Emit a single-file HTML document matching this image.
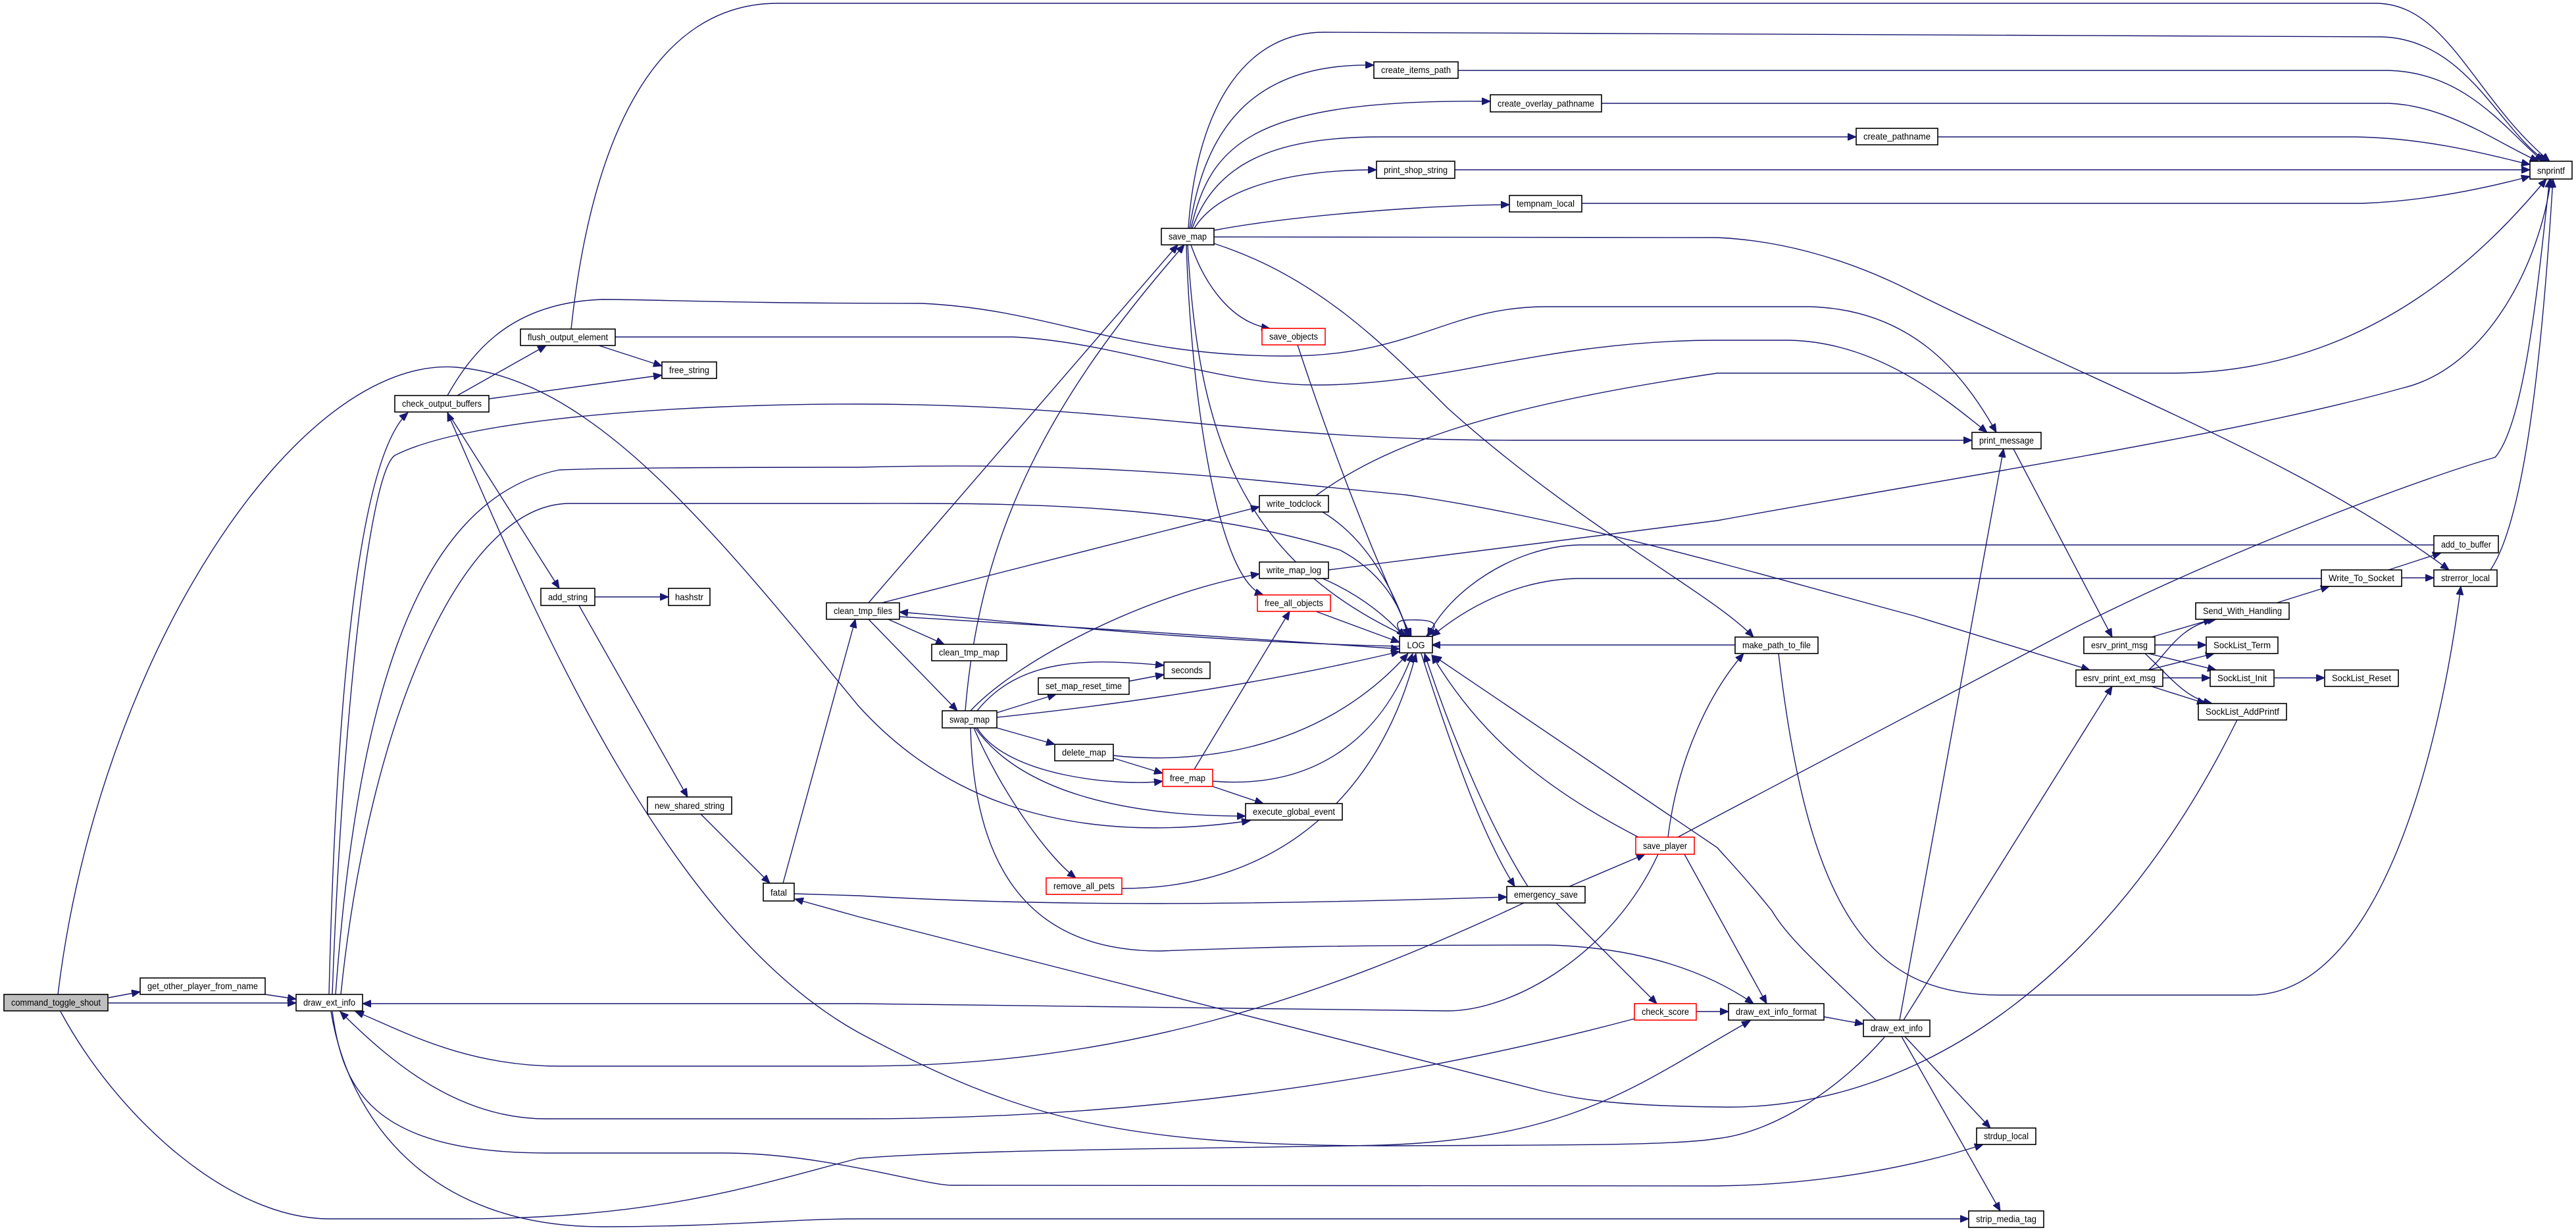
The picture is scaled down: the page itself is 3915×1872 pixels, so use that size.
<!DOCTYPE html>
<html><head><meta charset="utf-8"><style>
html,body{margin:0;padding:0;background:#fff;}
svg{display:block;}
.e{fill:none;stroke:#191970;stroke-width:1.4;marker-end:url(#a);}
.n{fill:#fff;stroke:#000;stroke-width:1.6;}
.r{fill:#fff;stroke:#ff0000;stroke-width:1.6;}
text{font-family:"Liberation Sans",sans-serif;font-size:14px;fill:#000;text-anchor:middle;}
</style></head><body>
<svg width="3915" height="1872" viewBox="0 0 3915 1872" xmlns="http://www.w3.org/2000/svg">
<defs><marker id="a" markerUnits="userSpaceOnUse" markerWidth="14" markerHeight="11" refX="13" refY="5.5" orient="auto"><path d="M0,0 L13,5.5 L0,11 z" fill="#191970" stroke="#191970"/></marker></defs>
<g>
<path class="e" d="M165,1516 L213,1507"/>
<path class="e" d="M165,1524 L450,1524"/>
<path class="e" d="M403,1511 L450,1518"/>
<path class="e" d="M88,1511 C150,1000 450,540 693,558 C900,575 1080,800 1305,1073 C1420,1200 1600,1290 1900,1247"/>
<path class="e" d="M92,1537 C180,1700 350,1852 500,1852 L700,1852 C1000,1852 1150,1800 1305,1760 C1500,1745 1900,1745 2100,1740 C2400,1730 2500,1640 2660,1551"/>
<path class="e" d="M500,1511 C510,1100 540,700 620,627"/>
<path class="e" d="M505,1511 C520,1100 560,720 600,692 C700,640 1000,614 1305,614 C1700,614 1900,669 2300,669 L2997,669"/>
<path class="e" d="M510,1511 C540,1100 620,760 850,714 C950,710 1200,710 1305,710 C1700,700 1900,730 2137,752 C2400,790 2700,880 2910,936 L3176,1018"/>
<path class="e" d="M518,1511 C560,1100 700,765 866,765 L1305,765 C1500,765 1800,760 2037,836 C2100,870 2130,920 2140,968"/>
<path class="e" d="M2316,1372 C2000,1520 1700,1620 1305,1620 L850,1620 C700,1620 600,1560 540,1537"/>
<path class="e" d="M2484,1548 C2100,1650 1700,1700 1305,1700 L830,1700 C700,1700 600,1620 517,1537"/>
<path class="e" d="M505,1537 C520,1650 560,1752 832,1752 L1100,1752 C1250,1752 1400,1800 1446,1801 L2610,1802 C2800,1800 2950,1760 3014,1739"/>
<path class="e" d="M503,1537 C530,1700 650,1864 915,1864 C1100,1864 1200,1852 1305,1852 L2992,1852"/>
<path class="e" d="M2864,1576 C2800,1650 2700,1720 2610,1730 C2550,1740 2400,1740 2100,1741 C1700,1740 1550,1700 1305,1569 C1000,1400 800,900 680,627"/>
<path class="e" d="M3400,1094 C3200,1500 2900,1690 2610,1682 C2450,1680 2400,1670 2345,1658 L1305,1393 L1208,1366"/>
<path class="e" d="M1207,1358 L1305,1361 C1600,1378 1900,1375 2290,1363"/>
<path class="e" d="M1190,1342 L1300,941"/>
<path class="e" d="M1065,1237 L1170,1342"/>
<path class="e" d="M880,920 L1045,1211"/>
<path class="e" d="M904,907 L1016,907"/>
<path class="e" d="M680,626 L850,894"/>
<path class="e" d="M695,601 L830,525"/>
<path class="e" d="M743,606 L1006,570"/>
<path class="e" d="M910,525 L1006,556"/>
<path class="e" d="M680,601 C720,530 780,460 915,455 C1000,455 1100,461 1400,461 C1600,470 1700,541 1954,541 C2150,541 2200,466 2350,466 L2750,466 C2900,470 2980,560 3034,657"/>
<path class="e" d="M935,512 L1540,512 C1700,520 1850,585 2000,585 C2200,585 2350,517 2610,517 L2720,517 C2850,520 2950,600 3020,657"/>
<path class="e" d="M868,500 C900,200 1000,5 1182,5 L3610,5 C3720,5 3760,150 3875,245"/>
<path class="e" d="M1808,347 C1830,200 1900,95 2088,99"/>
<path class="e" d="M1810,347 C1840,220 1900,150 2265,154"/>
<path class="e" d="M1812,347 C1850,240 1950,208 2100,208 L2821,208"/>
<path class="e" d="M1815,347 C1850,290 1950,258 2092,258"/>
<path class="e" d="M1845,350 C1950,330 2150,312 2294,311"/>
<path class="e" d="M1806,347 C1820,150 1900,49 2012,49 L3620,56 C3750,60 3800,200 3870,245"/>
<path class="e" d="M2216,107 L3630,107 C3750,110 3810,200 3865,245"/>
<path class="e" d="M2434,157 L3630,157 C3720,160 3800,220 3858,245"/>
<path class="e" d="M2945,208 L3580,208 C3700,210 3800,240 3845,250"/>
<path class="e" d="M2211,258 L3845,258"/>
<path class="e" d="M2404,309 L3590,309 C3700,305 3800,280 3845,268"/>
<path class="e" d="M1845,360 L2610,361 C2700,365 2800,390 2900,440 C3200,590 3500,700 3722,866"/>
<path class="e" d="M1845,370 C2000,420 2100,520 2200,620 C2400,800 2600,900 2665,968"/>
<path class="e" d="M1810,372 C1830,430 1870,490 1930,499"/>
<path class="e" d="M1805,372 C1820,650 1880,850 2140,968"/>
<path class="e" d="M1803,372 C1810,600 1850,880 1920,904"/>
<path class="e" d="M1972,524 C2030,700 2090,850 2145,968"/>
<path class="e" d="M1320,916 L1790,372"/>
<path class="e" d="M1467,1080 C1490,800 1600,600 1800,372"/>
<path class="e" d="M1340,916 L1914,770"/>
<path class="e" d="M1475,1080 C1550,1000 1750,900 1914,872"/>
<path class="e" d="M2127,982 C1800,975 1500,940 1367,930"/>
<path class="e" d="M1367,937 C1600,950 1900,970 2127,986"/>
<path class="e" d="M1350,941 L1435,979"/>
<path class="e" d="M1320,941 L1455,1080"/>
<path class="e" d="M1485,1080 C1550,1000 1650,1000 1769,1011"/>
<path class="e" d="M1515,1083 L1605,1055"/>
<path class="e" d="M1716,1035 L1769,1025"/>
<path class="e" d="M1515,1090 C1800,1060 2000,1020 2127,990"/>
<path class="e" d="M1515,1106 L1603,1131"/>
<path class="e" d="M1485,1106 C1530,1180 1700,1195 1767,1187"/>
<path class="e" d="M1482,1106 C1550,1200 1700,1240 1893,1240"/>
<path class="e" d="M1480,1106 C1520,1200 1590,1300 1635,1334"/>
<path class="e" d="M1475,1106 C1480,1300 1550,1445 1763,1445 C1900,1440 2000,1436 2354,1436 C2500,1440 2600,1480 2665,1525"/>
<path class="e" d="M1692,1152 L1767,1175"/>
<path class="e" d="M1692,1148 C1800,1160 2000,1150 2140,993"/>
<path class="e" d="M1815,1169 L1960,929"/>
<path class="e" d="M1843,1187 C2000,1200 2100,1120 2147,993"/>
<path class="e" d="M1843,1195 L1920,1221"/>
<path class="e" d="M1705,1350 C1950,1350 2100,1200 2152,993"/>
<path class="e" d="M2010,778 C2080,820 2120,900 2142,968"/>
<path class="e" d="M2010,879 C2070,905 2110,940 2135,968"/>
<path class="e" d="M2000,929 L2127,976"/>
<path class="e" d="M2000,753 C2100,680 2250,620 2610,567 L3300,567 C3600,567 3780,380 3870,272"/>
<path class="e" d="M2019,866 L2610,791 C3000,720 3400,660 3650,590 C3780,560 3860,400 3877,272"/>
<path class="e" d="M2133,965 C2110,940 2135,942 2152,942 C2170,942 2195,945 2168,966"/>
<path class="e" d="M2160,993 C2220,1180 2260,1280 2302,1347"/>
<path class="e" d="M2322,1347 C2260,1250 2200,1100 2165,993"/>
<path class="e" d="M2490,1272 C2350,1200 2250,1120 2176,995"/>
<path class="e" d="M2851,1550 C2780,1480 2720,1430 2693,1384 C2650,1330 2620,1300 2610,1288 L2178,996"/>
<path class="e" d="M2385,1347 L2500,1298"/>
<path class="e" d="M2365,1372 L2518,1525"/>
<path class="e" d="M2520,1298 C2450,1450 2300,1536 2200,1536 L1305,1525 L551,1525"/>
<path class="e" d="M2535,1272 C2550,1150 2600,1050 2650,993"/>
<path class="e" d="M2550,1272 L2610,1240 L3159,951 C3400,830 3700,720 3792,695 C3840,640 3860,400 3875,272"/>
<path class="e" d="M2560,1298 L2685,1525"/>
<path class="e" d="M2578,1537 L2627,1537"/>
<path class="e" d="M2772,1545 L2832,1556"/>
<path class="e" d="M2887,1550 L3045,682"/>
<path class="e" d="M2893,1550 L3210,1043"/>
<path class="e" d="M2895,1575 L3025,1714"/>
<path class="e" d="M2890,1575 L3040,1840"/>
<path class="e" d="M3060,682 L3210,968"/>
<path class="e" d="M2637,980 L2176,980"/>
<path class="e" d="M2703,993 C2750,1400 2850,1512 3040,1512 L3420,1512 C3600,1512 3700,1200 3740,891"/>
<path class="e" d="M3785,866 C3830,800 3860,600 3880,272"/>
<path class="e" d="M3630,866 L3710,840"/>
<path class="e" d="M3650,878 L3699,878"/>
<path class="e" d="M3460,916 L3540,891"/>
<path class="e" d="M3699,828 L2400,828 C2300,830 2200,900 2170,967"/>
<path class="e" d="M3528,879 L2400,879 C2300,880 2220,930 2176,967"/>
<path class="e" d="M3270,968 L3362,941"/>
<path class="e" d="M3275,980 L3353,980"/>
<path class="e" d="M3265,993 L3368,1018"/>
<path class="e" d="M3260,993 C3300,1030 3320,1060 3362,1069"/>
<path class="e" d="M3265,1018 C3290,1000 3310,950 3368,941"/>
<path class="e" d="M3265,1018 L3365,993"/>
<path class="e" d="M3287,1030 L3359,1030"/>
<path class="e" d="M3270,1043 L3352,1069"/>
<path class="e" d="M3456,1030 L3533,1030"/>
</g>
<g>
<rect x="6" y="1511" width="158" height="25" fill="#bfbfbf" stroke="#000" stroke-width="1.6"/><text x="85" y="1528" textLength="136" lengthAdjust="spacingAndGlyphs">command_toggle_shout</text>
<rect class="n" x="213" y="1486" width="190" height="25"/><text x="308" y="1503" textLength="168" lengthAdjust="spacingAndGlyphs">get_other_player_from_name</text>
<rect class="n" x="450" y="1511" width="101" height="25"/><text x="500.5" y="1528" textLength="79" lengthAdjust="spacingAndGlyphs">draw_ext_info</text>
<rect class="n" x="600" y="601" width="143" height="25"/><text x="671.5" y="618" textLength="121" lengthAdjust="spacingAndGlyphs">check_output_buffers</text>
<rect class="n" x="791" y="500" width="144" height="25"/><text x="863" y="517" textLength="122" lengthAdjust="spacingAndGlyphs">flush_output_element</text>
<rect class="n" x="1006" y="550" width="83" height="25"/><text x="1047.5" y="567" textLength="61" lengthAdjust="spacingAndGlyphs">free_string</text>
<rect class="n" x="822" y="894" width="82" height="26"/><text x="863" y="912" textLength="60" lengthAdjust="spacingAndGlyphs">add_string</text>
<rect class="n" x="1016" y="894" width="63" height="26"/><text x="1047.5" y="912" textLength="43" lengthAdjust="spacingAndGlyphs">hashstr</text>
<rect class="n" x="984" y="1211" width="128" height="26"/><text x="1048" y="1229" textLength="106" lengthAdjust="spacingAndGlyphs">new_shared_string</text>
<rect class="n" x="1160" y="1342" width="47" height="27"/><text x="1183.5" y="1361" textLength="25" lengthAdjust="spacingAndGlyphs">fatal</text>
<rect class="n" x="1256" y="916" width="111" height="25"/><text x="1311.5" y="933" textLength="89" lengthAdjust="spacingAndGlyphs">clean_tmp_files</text>
<rect class="n" x="1416" y="979" width="114" height="25"/><text x="1473" y="996" textLength="92" lengthAdjust="spacingAndGlyphs">clean_tmp_map</text>
<rect class="n" x="1432" y="1080" width="83" height="26"/><text x="1473.5" y="1098" textLength="61" lengthAdjust="spacingAndGlyphs">swap_map</text>
<rect class="n" x="1578" y="1030" width="138" height="25"/><text x="1647" y="1047" textLength="116" lengthAdjust="spacingAndGlyphs">set_map_reset_time</text>
<rect class="n" x="1769" y="1006" width="70" height="25"/><text x="1804" y="1023" textLength="48" lengthAdjust="spacingAndGlyphs">seconds</text>
<rect class="n" x="1603" y="1131" width="89" height="25"/><text x="1647.5" y="1148" textLength="67" lengthAdjust="spacingAndGlyphs">delete_map</text>
<rect class="r" x="1767" y="1169" width="76" height="26"/><text x="1805" y="1187" textLength="54" lengthAdjust="spacingAndGlyphs">free_map</text>
<rect class="n" x="1893" y="1221" width="147" height="25"/><text x="1966.5" y="1238" textLength="125" lengthAdjust="spacingAndGlyphs">execute_global_event</text>
<rect class="r" x="1590" y="1334" width="115" height="25"/><text x="1647.5" y="1351" textLength="93" lengthAdjust="spacingAndGlyphs">remove_all_pets</text>
<rect class="n" x="1765" y="347" width="80" height="25"/><text x="1805" y="364" textLength="58" lengthAdjust="spacingAndGlyphs">save_map</text>
<rect class="n" x="2088" y="94" width="128" height="25"/><text x="2152" y="111" textLength="106" lengthAdjust="spacingAndGlyphs">create_items_path</text>
<rect class="n" x="2265" y="144" width="169" height="26"/><text x="2349.5" y="162" textLength="147" lengthAdjust="spacingAndGlyphs">create_overlay_pathname</text>
<rect class="n" x="2821" y="195" width="124" height="25"/><text x="2883" y="212" textLength="102" lengthAdjust="spacingAndGlyphs">create_pathname</text>
<rect class="n" x="2092" y="245" width="119" height="26"/><text x="2151.5" y="263" textLength="97" lengthAdjust="spacingAndGlyphs">print_shop_string</text>
<rect class="n" x="2294" y="297" width="110" height="25"/><text x="2349" y="314" textLength="88" lengthAdjust="spacingAndGlyphs">tempnam_local</text>
<rect class="r" x="1918" y="499" width="96" height="25"/><text x="1966" y="516" textLength="74" lengthAdjust="spacingAndGlyphs">save_objects</text>
<rect class="n" x="1914" y="753" width="105" height="25"/><text x="1966.5" y="770" textLength="83" lengthAdjust="spacingAndGlyphs">write_todclock</text>
<rect class="n" x="1914" y="854" width="105" height="25"/><text x="1966.5" y="871" textLength="83" lengthAdjust="spacingAndGlyphs">write_map_log</text>
<rect class="r" x="1911" y="904" width="111" height="25"/><text x="1966.5" y="921" textLength="89" lengthAdjust="spacingAndGlyphs">free_all_objects</text>
<rect class="n" x="2127" y="967" width="50" height="25"/><text x="2152" y="985" textLength="27" lengthAdjust="spacingAndGlyphs">LOG</text>
<rect class="n" x="2290" y="1347" width="119" height="25"/><text x="2349.5" y="1364" textLength="97" lengthAdjust="spacingAndGlyphs">emergency_save</text>
<rect class="r" x="2486" y="1272" width="89" height="26"/><text x="2530.5" y="1290" textLength="67" lengthAdjust="spacingAndGlyphs">save_player</text>
<rect class="r" x="2484" y="1525" width="94" height="25"/><text x="2531" y="1542" textLength="72" lengthAdjust="spacingAndGlyphs">check_score</text>
<rect class="n" x="3845" y="245" width="64" height="27"/><text x="3877" y="264" textLength="42" lengthAdjust="spacingAndGlyphs">snprintf</text>
<rect class="n" x="2997" y="657" width="105" height="25"/><text x="3049.5" y="674" textLength="83" lengthAdjust="spacingAndGlyphs">print_message</text>
<rect class="n" x="3699" y="814" width="98" height="26"/><text x="3748" y="832" textLength="76" lengthAdjust="spacingAndGlyphs">add_to_buffer</text>
<rect class="n" x="3528" y="866" width="122" height="25"/><text x="3589" y="883" textLength="100" lengthAdjust="spacingAndGlyphs">Write_To_Socket</text>
<rect class="n" x="3699" y="866" width="96" height="25"/><text x="3747" y="883" textLength="74" lengthAdjust="spacingAndGlyphs">strerror_local</text>
<rect class="n" x="3337" y="916" width="142" height="25"/><text x="3408" y="933" textLength="120" lengthAdjust="spacingAndGlyphs">Send_With_Handling</text>
<rect class="n" x="2637" y="968" width="126" height="25"/><text x="2700" y="985" textLength="104" lengthAdjust="spacingAndGlyphs">make_path_to_file</text>
<rect class="n" x="3167" y="968" width="108" height="25"/><text x="3221" y="985" textLength="86" lengthAdjust="spacingAndGlyphs">esrv_print_msg</text>
<rect class="n" x="3353" y="968" width="109" height="25"/><text x="3407.5" y="985" textLength="87" lengthAdjust="spacingAndGlyphs">SockList_Term</text>
<rect class="n" x="3155" y="1018" width="132" height="25"/><text x="3221" y="1035" textLength="110" lengthAdjust="spacingAndGlyphs">esrv_print_ext_msg</text>
<rect class="n" x="3359" y="1018" width="97" height="25"/><text x="3407.5" y="1035" textLength="75" lengthAdjust="spacingAndGlyphs">SockList_Init</text>
<rect class="n" x="3533" y="1018" width="112" height="25"/><text x="3589" y="1035" textLength="90" lengthAdjust="spacingAndGlyphs">SockList_Reset</text>
<rect class="n" x="3341" y="1069" width="134" height="25"/><text x="3408" y="1086" textLength="112" lengthAdjust="spacingAndGlyphs">SockList_AddPrintf</text>
<rect class="n" x="2627" y="1525" width="145" height="25"/><text x="2699.5" y="1542" textLength="123" lengthAdjust="spacingAndGlyphs">draw_ext_info_format</text>
<rect class="n" x="2832" y="1550" width="101" height="25"/><text x="2882.5" y="1567" textLength="79" lengthAdjust="spacingAndGlyphs">draw_ext_info</text>
<rect class="n" x="3004" y="1714" width="90" height="25"/><text x="3049" y="1731" textLength="68" lengthAdjust="spacingAndGlyphs">strdup_local</text>
<rect class="n" x="2992" y="1840" width="114" height="25"/><text x="3049" y="1857" textLength="92" lengthAdjust="spacingAndGlyphs">strip_media_tag</text>
</g>
</svg>
</body></html>
